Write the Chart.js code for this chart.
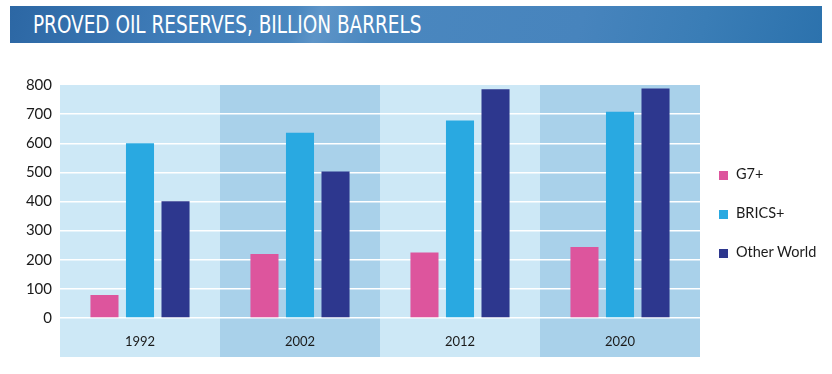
<!DOCTYPE html>
<html>
<head>
<meta charset="utf-8">
<script src="https://cdn.jsdelivr.net/npm/chart.js@4"></script>
<style>
    body { margin: 0; background: #fff; }
    #wrap { position: relative; width: 832px; height: 374px; overflow: hidden; }
    #title {
        position: absolute; left: 10px; top: 6px; width: 812px; height: 37px;
        background: linear-gradient(105deg, #2c67a4 0%, #3f7cb8 20%, #4a87bf 35%, #5e95c8 38%, #4a87bf 45%, #4784bd 70%, #3a7db6 85%, #2c72ad 100%);
        color: #fff; font-family: "Liberation Sans Narrow", "DejaVu Sans Condensed", sans-serif;
        font-size: 25px; line-height: 37px; padding-left: 23px; box-sizing: border-box;
    }
    #title span { display: inline-block; transform: scaleX(0.82); transform-origin: left center; white-space: nowrap; }
    #chartBox { position: absolute; left: 0; top: 0; width: 832px; height: 374px; }
    #legend { position: absolute; left: 719px; top: 165px; font-family: Lato, "Noto Sans", sans-serif; font-size: 14.5px; color: #1a1a1a; }
    .item { height: 39px; display: flex; align-items: flex-start; }
    .sw { width: 9px; height: 9px; margin-top: 6px; margin-right: 8px; }
</style>
</head>
<body>
<div id="wrap">
    <div id="title"><span>PROVED OIL RESERVES, BILLION BARRELS</span></div>
    <div id="chartBox"><canvas id="reservesChart" width="832" height="374"></canvas></div>
    <div id="legend"></div>
</div>
<script>
const years = ["1992", "2002", "2012", "2020"];
const seriesNames = ["G7+", "BRICS+", "Other World"];
const g7 = [79, 220, 225, 244];
const brics = [600, 636, 678, 708];
const otherWorld = [401, 503, 785, 788];
const yTicks = [0, 100, 200, 300, 400, 500, 600, 700, 800];

const seriesColors = ["#dd559d", "#29a9e1", "#2d378e"];
const bandColors = ["#cde8f6", "#a9d1ea"];

/*
 * Alternating background bands behind each year
 */
const bandPlugin = {
    id: "bands",
    beforeDraw(chart) {
        const { ctx, chartArea, scales } = chart;
        const x = scales.x;
        const step = x.getPixelForValue(1) - x.getPixelForValue(0);
        ctx.save();
        years.forEach((y, i) => {
            const cx = x.getPixelForValue(i);
            ctx.fillStyle = bandColors[i % 2];
            ctx.fillRect(cx - step / 2, chartArea.top, step, x.bottom - chartArea.top);
        });
        ctx.restore();
    }
};

const ctx = document.getElementById("reservesChart");

new Chart(ctx, {
    type: "bar",
    data: {
        labels: years,
        datasets: [g7, brics, otherWorld].map((d, i) => ({
            label: seriesNames[i],
            data: d,
            backgroundColor: seriesColors[i],
            borderWidth: 0,
            categoryPercentage: 0.666,
            barPercentage: 0.79
        }))
    },
    options: {
        responsive: false,
        animation: false,
        layout: { padding: { top: 85, right: 132, bottom: 17, left: 0 } },
        plugins: { legend: { display: false }, tooltip: { enabled: false } },
        scales: {
            x: {
                grid: { display: false, drawTicks: false },
                border: { display: false },
                ticks: { color: "#1a1a1a", font: { family: "Lato", size: 13 }, padding: 16 },
                afterFit(scale) { scale.height = 39; }
            },
            y: {
                min: 0,
                max: 800,
                afterBuildTicks(scale) { scale.ticks = yTicks.map(v => ({ value: v })); },
                grid: {
                    drawTicks: false,
                    color: c => c.tick && c.tick.value === 800 ? "rgba(0,0,0,0)" : "#ffffff",
                    lineWidth: 1.5
                },
                border: { display: false },
                ticks: { color: "#1a1a1a", font: { family: "Lato", size: 15 }, padding: 8 },
                afterFit(scale) { scale.width = 60; }
            }
        }
    },
    plugins: [bandPlugin]
});

const legend = document.getElementById("legend");
seriesNames.forEach((name, i) => {
    legend.innerHTML += '<div class="item"><span class="sw" style="background:' + seriesColors[i] + '"></span>' + name + '</div>';
});
</script>
</body>
</html>
